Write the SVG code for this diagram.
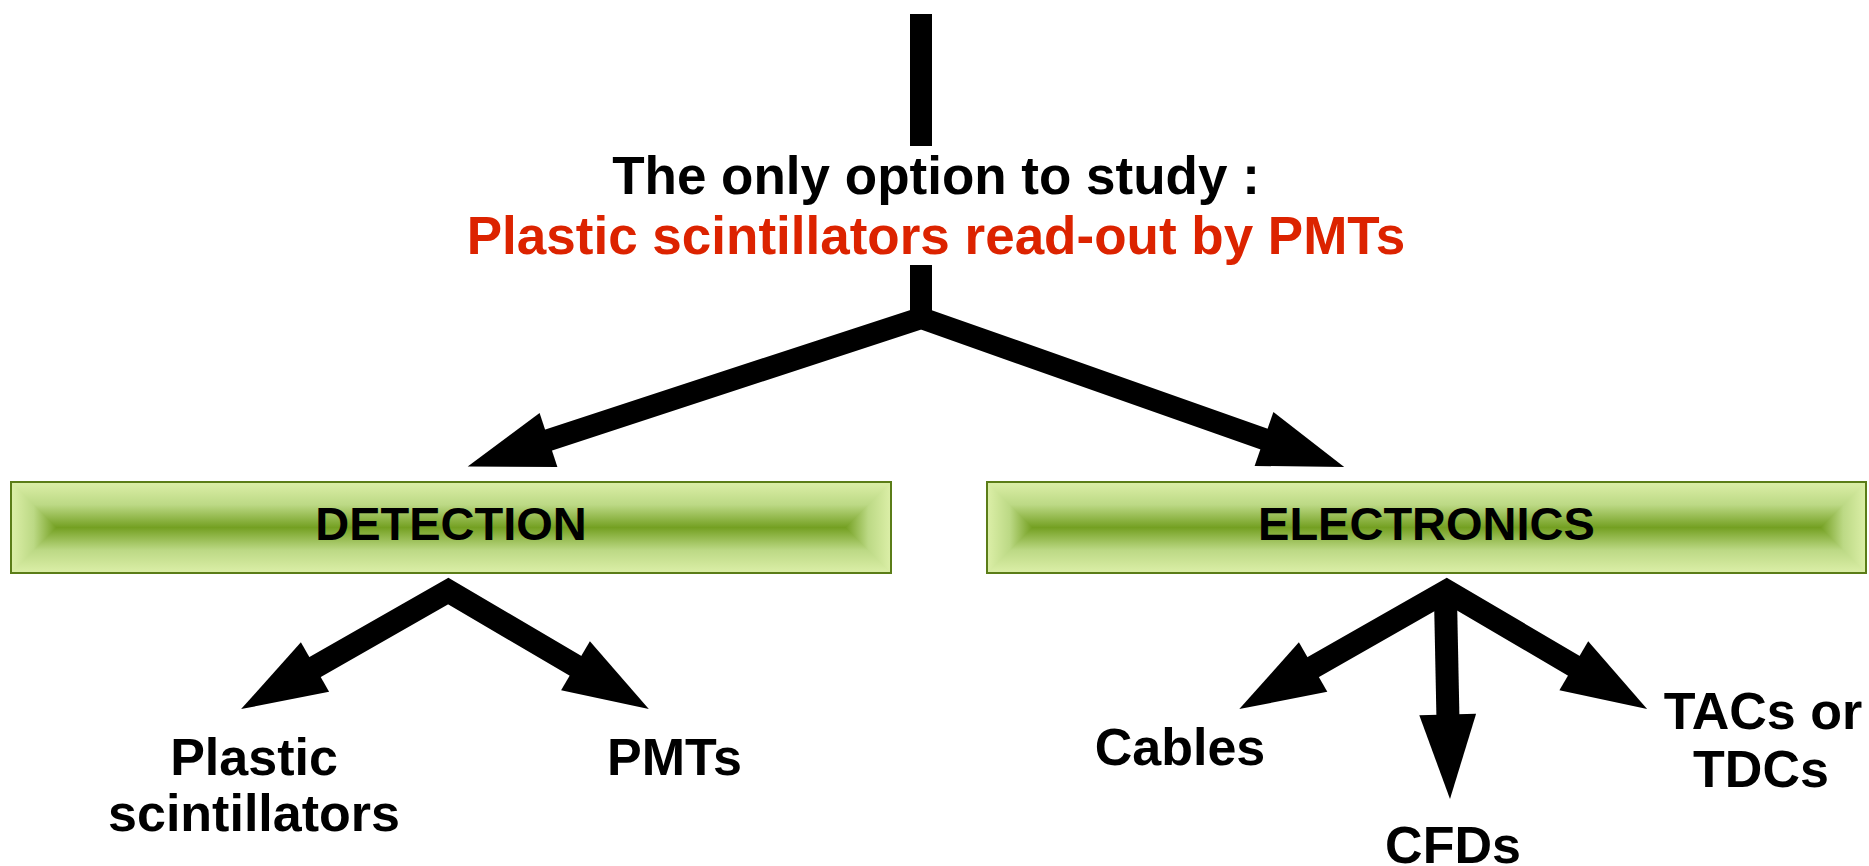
<svg xmlns="http://www.w3.org/2000/svg" width="1869" height="866" viewBox="0 0 1869 866">
<style>
text{font-family:"Liberation Sans",Arial,sans-serif;font-weight:bold;text-anchor:middle;fill:#000}
.red{fill:#dc2300}
.t53{font-size:53px}
.t47{font-size:47px}
.t52{font-size:52px}
.shaft{fill:none;stroke:#000;stroke-linejoin:miter;stroke-linecap:butt}
.head{fill:#000}
.border{fill:none;stroke:#5b7d18;stroke-width:2}
</style>
<defs>
<linearGradient id="gV" x1="0" y1="0" x2="0" y2="1">
<stop offset="0" stop-color="#dcefa8"/>
<stop offset="0.25" stop-color="#bcd985"/>
<stop offset="0.5" stop-color="#74a022"/>
<stop offset="0.75" stop-color="#bcd985"/>
<stop offset="1" stop-color="#dcefa8"/>
</linearGradient>
<linearGradient id="gL" x1="0" y1="0" x2="1" y2="0">
<stop offset="0" stop-color="#dcefa8"/>
<stop offset="0.5" stop-color="#bcd985"/>
<stop offset="1" stop-color="#74a022"/>
</linearGradient>
<linearGradient id="gR" x1="1" y1="0" x2="0" y2="0">
<stop offset="0" stop-color="#dcefa8"/>
<stop offset="0.5" stop-color="#bcd985"/>
<stop offset="1" stop-color="#74a022"/>
</linearGradient>
</defs>
<rect width="1869" height="866" fill="#fff"/>

<g id="connectors">
<rect x="910" y="14" width="22" height="132" fill="#000"/>
<rect x="910" y="265" width="22" height="53" fill="#000"/>
<path class="shaft" stroke-width="22" d="M534.3,444.7 L921,318 L1278.2,444"/>
<polygon class="head" points="539.6,412.9 467.7,466.4 557.4,467.1"/>
<polygon class="head" points="1273.4,412.1 1344.2,467.1 1254.6,465.9"/>
<path class="shaft" stroke-width="23" d="M302,674.4 L448.3,591 L588.4,673.4"/>
<polygon class="head" points="300.9,642.3 241.1,709.1 329.1,691.7"/>
<polygon class="head" points="589.9,641.3 648.8,708.9 561.1,690.3"/>
<path class="shaft" stroke-width="23" d="M1445.5,598 L1448.2,730"/>
<path class="shaft" stroke-width="23" d="M1300.2,674.4 L1446.7,591 L1586.7,673.4"/>
<polygon class="head" points="1298.9,642.3 1239.3,709.1 1327.3,691.7"/>
<polygon class="head" points="1588.2,641.3 1647.1,708.9 1559.4,690.3"/>
<polygon class="head" points="1419.3,715.3 1450,799 1476.1,713.7"/>
</g>

<g id="title">
<text class="t53" x="936" y="194">The only option to study :</text>
<text class="t53 red" x="936" y="254">Plastic scintillators read-out by PMTs</text>
</g>

<g id="detection">
<rect x="11" y="482" width="880" height="91" fill="url(#gV)"/>
<polygon points="11,482 56.5,527.5 11,573" fill="url(#gL)"/>
<polygon points="891,482 845.5,527.5 891,573" fill="url(#gR)"/>
<rect class="border" x="11" y="482" width="880" height="91"/>
<text class="t47" x="451" y="540">DETECTION</text>
</g>

<g id="electronics">
<rect x="987" y="482" width="879" height="91" fill="url(#gV)"/>
<polygon points="987,482 1032.5,527.5 987,573" fill="url(#gL)"/>
<polygon points="1866,482 1820.5,527.5 1866,573" fill="url(#gR)"/>
<rect class="border" x="987" y="482" width="879" height="91"/>
<text class="t47" x="1426.5" y="539.5">ELECTRONICS</text>
</g>

<g id="plastic">
<text class="t52" x="254" y="775">Plastic</text>
<text class="t52" x="254" y="831">scintillators</text>
</g>
<g id="pmts">
<text class="t52" x="674.5" y="775">PMTs</text>
</g>
<g id="cables">
<text class="t52" x="1180" y="765">Cables</text>
</g>
<g id="cfds">
<text class="t52" x="1453" y="863">CFDs</text>
</g>
<g id="tacs">
<text class="t52" x="1763" y="729">TACs or</text>
<text class="t52" x="1761" y="786.5">TDCs</text>
</g>
</svg>
